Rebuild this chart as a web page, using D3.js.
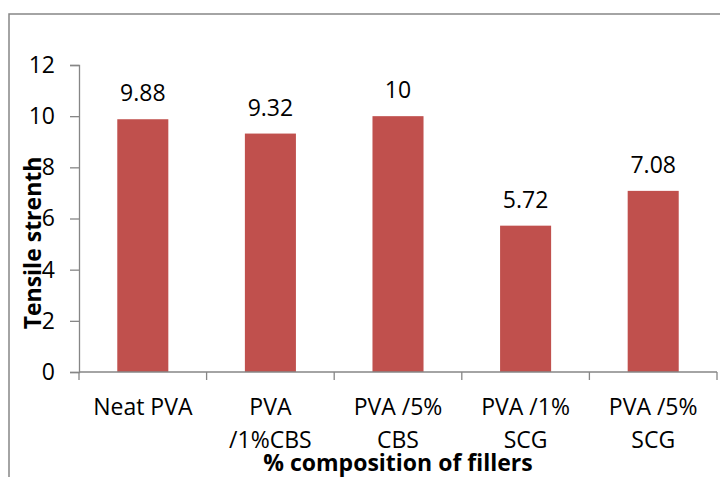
<!DOCTYPE html>
<html>
<head>
<meta charset="utf-8">
<script src="https://cdn.jsdelivr.net/npm/d3@7"></script>
<style>
  html, body { margin: 0; padding: 0; background: #fff; }
  svg { display: block; }
</style>
</head>
<body>
<div id="chart"></div>
<script>
const categories = [['Neat PVA'], ['PVA', '/1%CBS'], ['PVA /5%', 'CBS'], ['PVA /1%', 'SCG'], ['PVA /5%', 'SCG']];
const values = [9.88, 9.32, 10, 5.72, 7.08];
const yTicks = [0, 2, 4, 6, 8, 10, 12];
const xTitle = '% composition of fillers';
const yTitle = 'Tensile strenth';

const totalW = 720, totalH = 477;
const margin = { top: 65, right: 3, bottom: 105, left: 79 };
const W = totalW - margin.left - margin.right;
const H = totalH - margin.top - margin.bottom;
const font = "'Open Sans', sans-serif";
const fs = '23px';
const axisColor = '#868686';
const barColor = '#C0504D';

const svg = d3.select('#chart').append('svg')
  .attr('width', totalW).attr('height', totalH);

// outer chart frame (right and bottom edges fall outside the picture)
svg.append('rect')
  .attr('x', 9).attr('y', 14).attr('width', 900).attr('height', 900)
  .attr('fill', 'none').attr('stroke', axisColor).attr('stroke-width', 1.5);

const g = svg.append('g').attr('transform', `translate(${margin.left},${margin.top})`);

const keys = d3.range(values.length);
const x = d3.scaleBand().domain(keys).range([0, W]).paddingInner(0.6).paddingOuter(0.3);
const y = d3.scaleLinear().domain([0, 12]).range([H, 0]);

// y axis
const yAxis = g.append('g').call(d3.axisLeft(y).tickValues(yTicks).tickSizeOuter(0).tickSize(9).tickPadding(15));
yAxis.selectAll('line, path').attr('stroke', axisColor).attr('stroke-width', 1.3);
yAxis.selectAll('text').attr('fill', '#000').attr('font-family', font).attr('font-size', fs);

// bars
g.selectAll('.bar').data(values).enter().append('rect')
  .attr('class', 'bar')
  .attr('x', (d, i) => x(i))
  .attr('width', x.bandwidth())
  .attr('y', d => y(d))
  .attr('height', d => H - y(d))
  .attr('fill', barColor);

// value labels
g.selectAll('.val').data(values).enter().append('text')
  .attr('class', 'val')
  .attr('x', (d, i) => x(i) + x.bandwidth() / 2)
  .attr('y', d => y(d) - 18)
  .attr('text-anchor', 'middle')
  .attr('font-family', font).attr('font-size', fs).attr('fill', '#000')
  .text(d => d);

// x axis line + boundary ticks
const step = x.step();
const xg = g.append('g').attr('transform', `translate(0,${H})`);
xg.append('line').attr('x1', 0).attr('x2', W).attr('y1', 0).attr('y2', 0)
  .attr('stroke', axisColor).attr('stroke-width', 1.3);
xg.selectAll('.xt').data(d3.range(values.length + 1)).enter().append('line')
  .attr('x1', i => i * step).attr('x2', i => i * step)
  .attr('y1', 0).attr('y2', 8)
  .attr('stroke', axisColor).attr('stroke-width', 1.3);

// category labels (wrapped onto two lines like the original)
const lab = xg.selectAll('.cat').data(categories).enter().append('text')
  .attr('class', 'cat')
  .attr('text-anchor', 'middle')
  .attr('font-family', font).attr('font-size', fs).attr('fill', '#000')
  .attr('transform', (d, i) => `translate(${x(i) + x.bandwidth() / 2},0)`);
lab.each(function(d) {
  const t = d3.select(this);
  d.forEach((line, j) => {
    t.append('tspan').attr('x', 0).attr('y', 43 + j * 33).text(line);
  });
});

// axis titles
svg.append('text')
  .attr('x', margin.left + W / 2).attr('y', 471)
  .attr('text-anchor', 'middle')
  .attr('font-family', font).attr('font-size', fs).attr('font-weight', 'bold')
  .text(xTitle);

svg.append('text')
  .attr('transform', 'translate(41,243) rotate(-90)')
  .attr('text-anchor', 'middle')
  .attr('font-family', font).attr('font-size', fs).attr('font-weight', 'bold')
  .text(yTitle);
</script>
</body>
</html>
